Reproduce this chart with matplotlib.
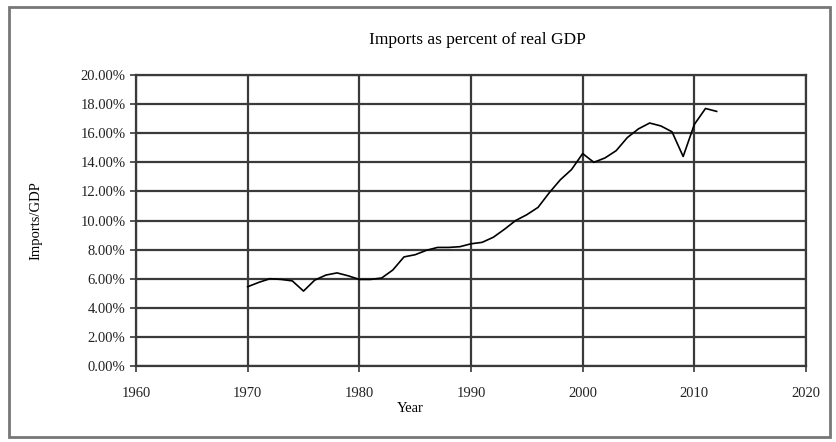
import matplotlib
matplotlib.use("Agg")
import matplotlib.pyplot as plt
from matplotlib.patches import Rectangle
from matplotlib.ticker import FuncFormatter

# Imports as percent of real GDP
years = list(range(1970, 2013))
imports_pct = [5.45, 5.75, 6.0, 5.95, 5.85, 5.15, 5.9, 6.25, 6.4, 6.2,
               5.95, 5.95, 6.05, 6.6, 7.5, 7.65, 7.95, 8.15, 8.15, 8.2,
               8.4, 8.5, 8.85, 9.4, 10.0, 10.4, 10.9, 11.9, 12.8, 13.5,
               14.6, 14.0, 14.3, 14.8, 15.7, 16.3, 16.7, 16.5, 16.1, 14.4,
               16.6, 17.7, 17.5]
x_ticks = [1960, 1970, 1980, 1990, 2000, 2010, 2020]
y_ticks = [0, 2, 4, 6, 8, 10, 12, 14, 16, 18, 20]

plt.rcParams['font.family'] = ['Liberation Serif', 'DejaVu Serif']

fig = plt.figure(figsize=(8.36, 4.42), dpi=100)
ax = fig.add_axes([0.1627, 0.1719, 0.8014, 0.6584])

grid_col = '#3a3a3a'
ax.plot(years, imports_pct, color='black', linewidth=1.2, zorder=3)

ax.set_xlim(1960, 2020)
ax.set_ylim(0, 20)
ax.set_xticks(x_ticks)
ax.set_yticks(y_ticks)
ax.yaxis.set_major_formatter(FuncFormatter(lambda v, p: f"{v:.2f}%"))
ax.grid(True, color=grid_col, linewidth=1.6)
for s in ax.spines.values():
    s.set_color(grid_col)
    s.set_linewidth(1.6)
ax.tick_params(axis='both', direction='out', length=4, width=1.2,
               color=grid_col, labelsize=10.5, colors='#222222')
ax.tick_params(axis='x', pad=11)

ax.set_title("Imports as percent of real GDP", fontsize=12.5, pad=22,
             x=0.51)
ax.set_ylabel("Imports/GDP", fontsize=10.5)
ax.yaxis.set_label_coords(-0.14, 0.5)
ax.set_xlabel("Year", fontsize=10.5)
ax.xaxis.set_label_coords(0.41, -0.125)

# outer frame like the pasted chart box
fig.patches.append(Rectangle((0.011, 0.012), 0.982, 0.972, transform=fig.transFigure,
                             fill=False, edgecolor='#777777', linewidth=2))

fig.savefig("out.png", dpi=100)
